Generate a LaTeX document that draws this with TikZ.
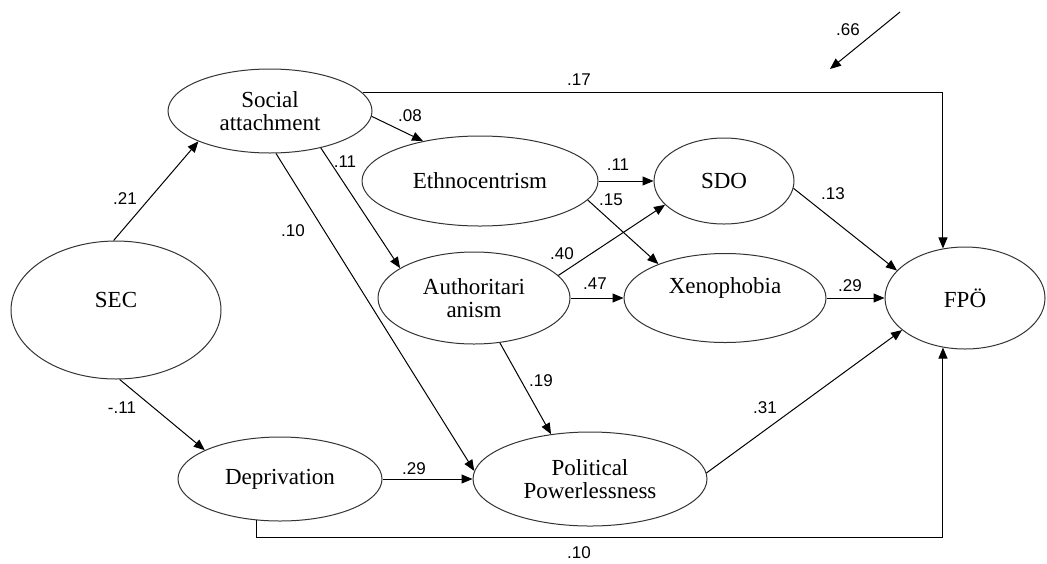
\documentclass[tikz,border=0pt]{standalone}
\usepackage{fontspec}
\setmainfont{Liberation Serif}
\newfontfamily\coeffont{Liberation Sans}
\usetikzlibrary{shapes.geometric, arrows.meta}

\begin{document}
\begin{tikzpicture}[x = 0.5pt, y = -0.5pt,
		var/.style = {draw = black!80, line width = 0.5pt, ellipse, inner sep = 0pt, align = center, font = \fontsize{11.5}{11.5}\selectfont},
		link/.style = {-{Triangle[length = 5.5pt, width = 4.5pt]}, line width = 0.5pt},
		coef/.style = {font = \coeffont\fontsize{8.5}{10}\selectfont, inner sep = 0pt}]
	\useasboundingbox (0, 0) rectangle (1047, 563);
	% latent variables
	\node[var, minimum width = 105pt, minimum height = 69pt] (sec) at (116, 310) {\raisebox{5pt}[\height][\depth]{SEC}};
	\node[var, minimum width = 102pt, minimum height = 42pt] (soc) at (270, 111) {Social\\attachment};
	\node[var, minimum width = 118pt, minimum height = 45pt] (eth) at (480, 181) {Ethnocentrism};
	\node[var, minimum width = 70pt, minimum height = 43pt] (sdo) at (724, 181) {SDO};
	\node[var, minimum width = 96pt, minimum height = 46pt] (auth) at (474, 298) {Authoritari\\anism};
	\node[var, minimum width = 101pt, minimum height = 44.5pt] (xen) at (725, 298) {\raisebox{5pt}[\height][\depth]{Xenophobia}};
	\node[var, minimum width = 80pt, minimum height = 51pt] (fpo) at (965, 298) {FPÖ};
	\node[var, minimum width = 102pt, minimum height = 42pt] (dep) at (280, 479) {Deprivation};
	\node[var, minimum width = 117pt, minimum height = 47pt] (pol) at (590, 479) {Political\\Powerlessness};
	\coordinate (low) at (0, 537);
	\coordinate (res) at (900, 12);
	\coordinate (resend) at (830, 69);
	% paths
	\draw[link] (sec.92) -- (soc.203);
	\draw[link] (sec.273) -- (dep.159);
	\draw[link] (soc.-3) -- (eth.145);
	\draw[link] (soc.11) -| (fpo.114);
	\draw[link] (soc.-36) -- (auth.158);
	\draw[link] (soc.-82) -- (pol.176);
	\draw[link] (eth.east) -- (sdo.west);
	\draw[link] (eth.-10) -- (xen.153);
	\draw[link] (auth.15) -- (sdo.202);
	\draw[link] (auth.east) -- (xen.west);
	\draw[link] (auth.-60) -- (pol.131);
	\draw[link] (sdo.-6) -- (fpo.158);
	\draw[link] (xen.east) -- (fpo.west);
	\draw[link] (pol.3) -- (fpo.207);
	\draw[link] (dep.east) -- (pol.west);
	\draw[link] (dep.240) |- (low -| fpo.246) -- (fpo.246);
	\draw[link] (res) -- (resend);
	% coefficients
	\node[coef] (c-sec-soc) at (125, 199) {.21};
	\node[coef] (c-sec-dep) at (122, 408) {-.11};
	\node[coef] (c-soc-eth) at (410, 116) {.08};
	\node[coef] (c-soc-fpo) at (579, 80) {.17};
	\node[coef] (c-soc-auth) at (345, 162) {.11};
	\node[coef] (c-soc-pol) at (293, 231) {.10};
	\node[coef] (c-eth-sdo) at (618, 165) {.11};
	\node[coef] (c-eth-xen) at (611, 200) {.15};
	\node[coef] (c-auth-sdo) at (562, 254) {.40};
	\node[coef] (c-auth-xen) at (595, 284) {.47};
	\node[coef] (c-auth-pol) at (541, 381) {.19};
	\node[coef] (c-sdo-fpo) at (833, 194) {.13};
	\node[coef] (c-xen-fpo) at (850, 286) {.29};
	\node[coef] (c-pol-fpo) at (765, 408) {.31};
	\node[coef] (c-dep-pol) at (414, 469) {.29};
	\node[coef] (c-dep-fpo) at (579, 553) {.10};
	\node[coef] (c-res) at (848, 30) {.66};
\end{tikzpicture}
\end{document}
